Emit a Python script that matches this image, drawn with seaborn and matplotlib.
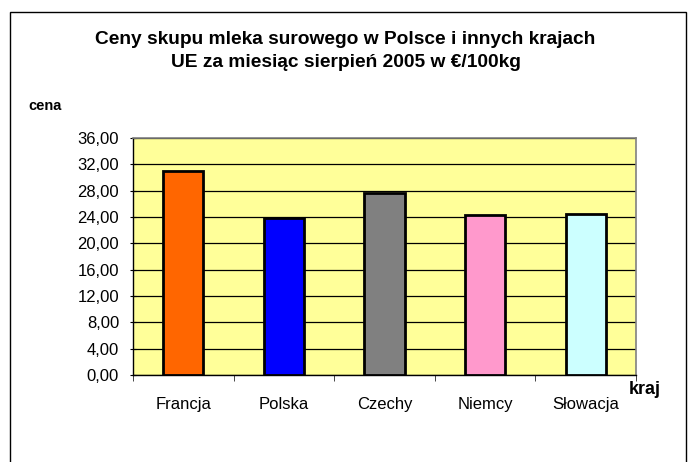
import seaborn as sns
import matplotlib.pyplot as plt
import pandas as pd
from matplotlib.patches import Rectangle
from matplotlib.ticker import FuncFormatter

kraje = ['Francja', 'Polska', 'Czechy', 'Niemcy', 'Słowacja']
ceny = [31.0, 23.9, 27.7, 24.3, 24.4]
kolory = ['#FF6600', '#0000FF', '#808080', '#FF99CC', '#CCFFFF']
y_ticks = [0, 4, 8, 12, 16, 20, 24, 28, 32, 36]

sns.set_style('white')
plt.rcParams['font.family'] = ['Liberation Sans', 'DejaVu Sans']

df = pd.DataFrame({'kraj': kraje, 'cena': ceny})

fig = plt.figure(figsize=(6.91, 4.62), dpi=100)
ax = fig.add_axes([133 / 691, 1 - 375 / 462, (636 - 133) / 691, (375 - 138) / 462])

# outer chart frame
fig.patches.append(Rectangle((10 / 691, -0.05), (686 - 10) / 691, 1 - 12 / 462 + 0.05,
                             transform=fig.transFigure, fill=False,
                             edgecolor='black', linewidth=1.0))

ax.set_facecolor('#FFFF99')
sns.barplot(data=df, x='kraj', y='cena', hue='kraj', palette=kolory, legend=False,
            saturation=1, width=0.4, edgecolor='black', linewidth=2, ax=ax, zorder=3)

ax.set_ylim(0, 36)
ax.set_yticks(y_ticks)
ax.yaxis.set_major_formatter(FuncFormatter(lambda v, p: f'{v:.2f}'.replace('.', ',')))
ax.grid(axis='y', color='black', linewidth=0.9, zorder=0)
ax.set_axisbelow(True)
for s in ['top', 'right']:
    ax.spines[s].set_color('#808080')
    ax.spines[s].set_linewidth(1.2)
for s in ['left', 'bottom']:
    ax.spines[s].set_color('black')
    ax.spines[s].set_linewidth(1.0)

ax.set_xlabel('')
ax.set_ylabel('')
ax.tick_params(axis='x', labelsize=12, colors='black', length=0, pad=16)
ax.tick_params(axis='y', labelsize=12, colors='black', length=4, left=True,
               direction='inout', pad=8)
# ticks between categories on x axis
ax.set_xticks([i - 0.5 for i in range(6)], minor=True)
ax.tick_params(axis='x', which='minor', length=4, bottom=True, direction='out')

fig.text(0.5, 1 - 51 / 462, 'Ceny skupu mleka surowego w Polsce i innych krajach\nUE za miesiąc sierpień 2005 w €/100kg',
         ha='center', va='center', fontsize=13.8, fontweight='bold', color='black',
         linespacing=1.45)
fig.text(28 / 691, 1 - 106 / 462, 'cena', ha='left', va='center', fontsize=10.5,
         fontweight='bold', color='black')
fig.text(629 / 691, 1 - 389 / 462, 'kraj', ha='left', va='center', fontsize=13,
         fontweight='bold', color='black')

fig.savefig('out.png', dpi=100)
